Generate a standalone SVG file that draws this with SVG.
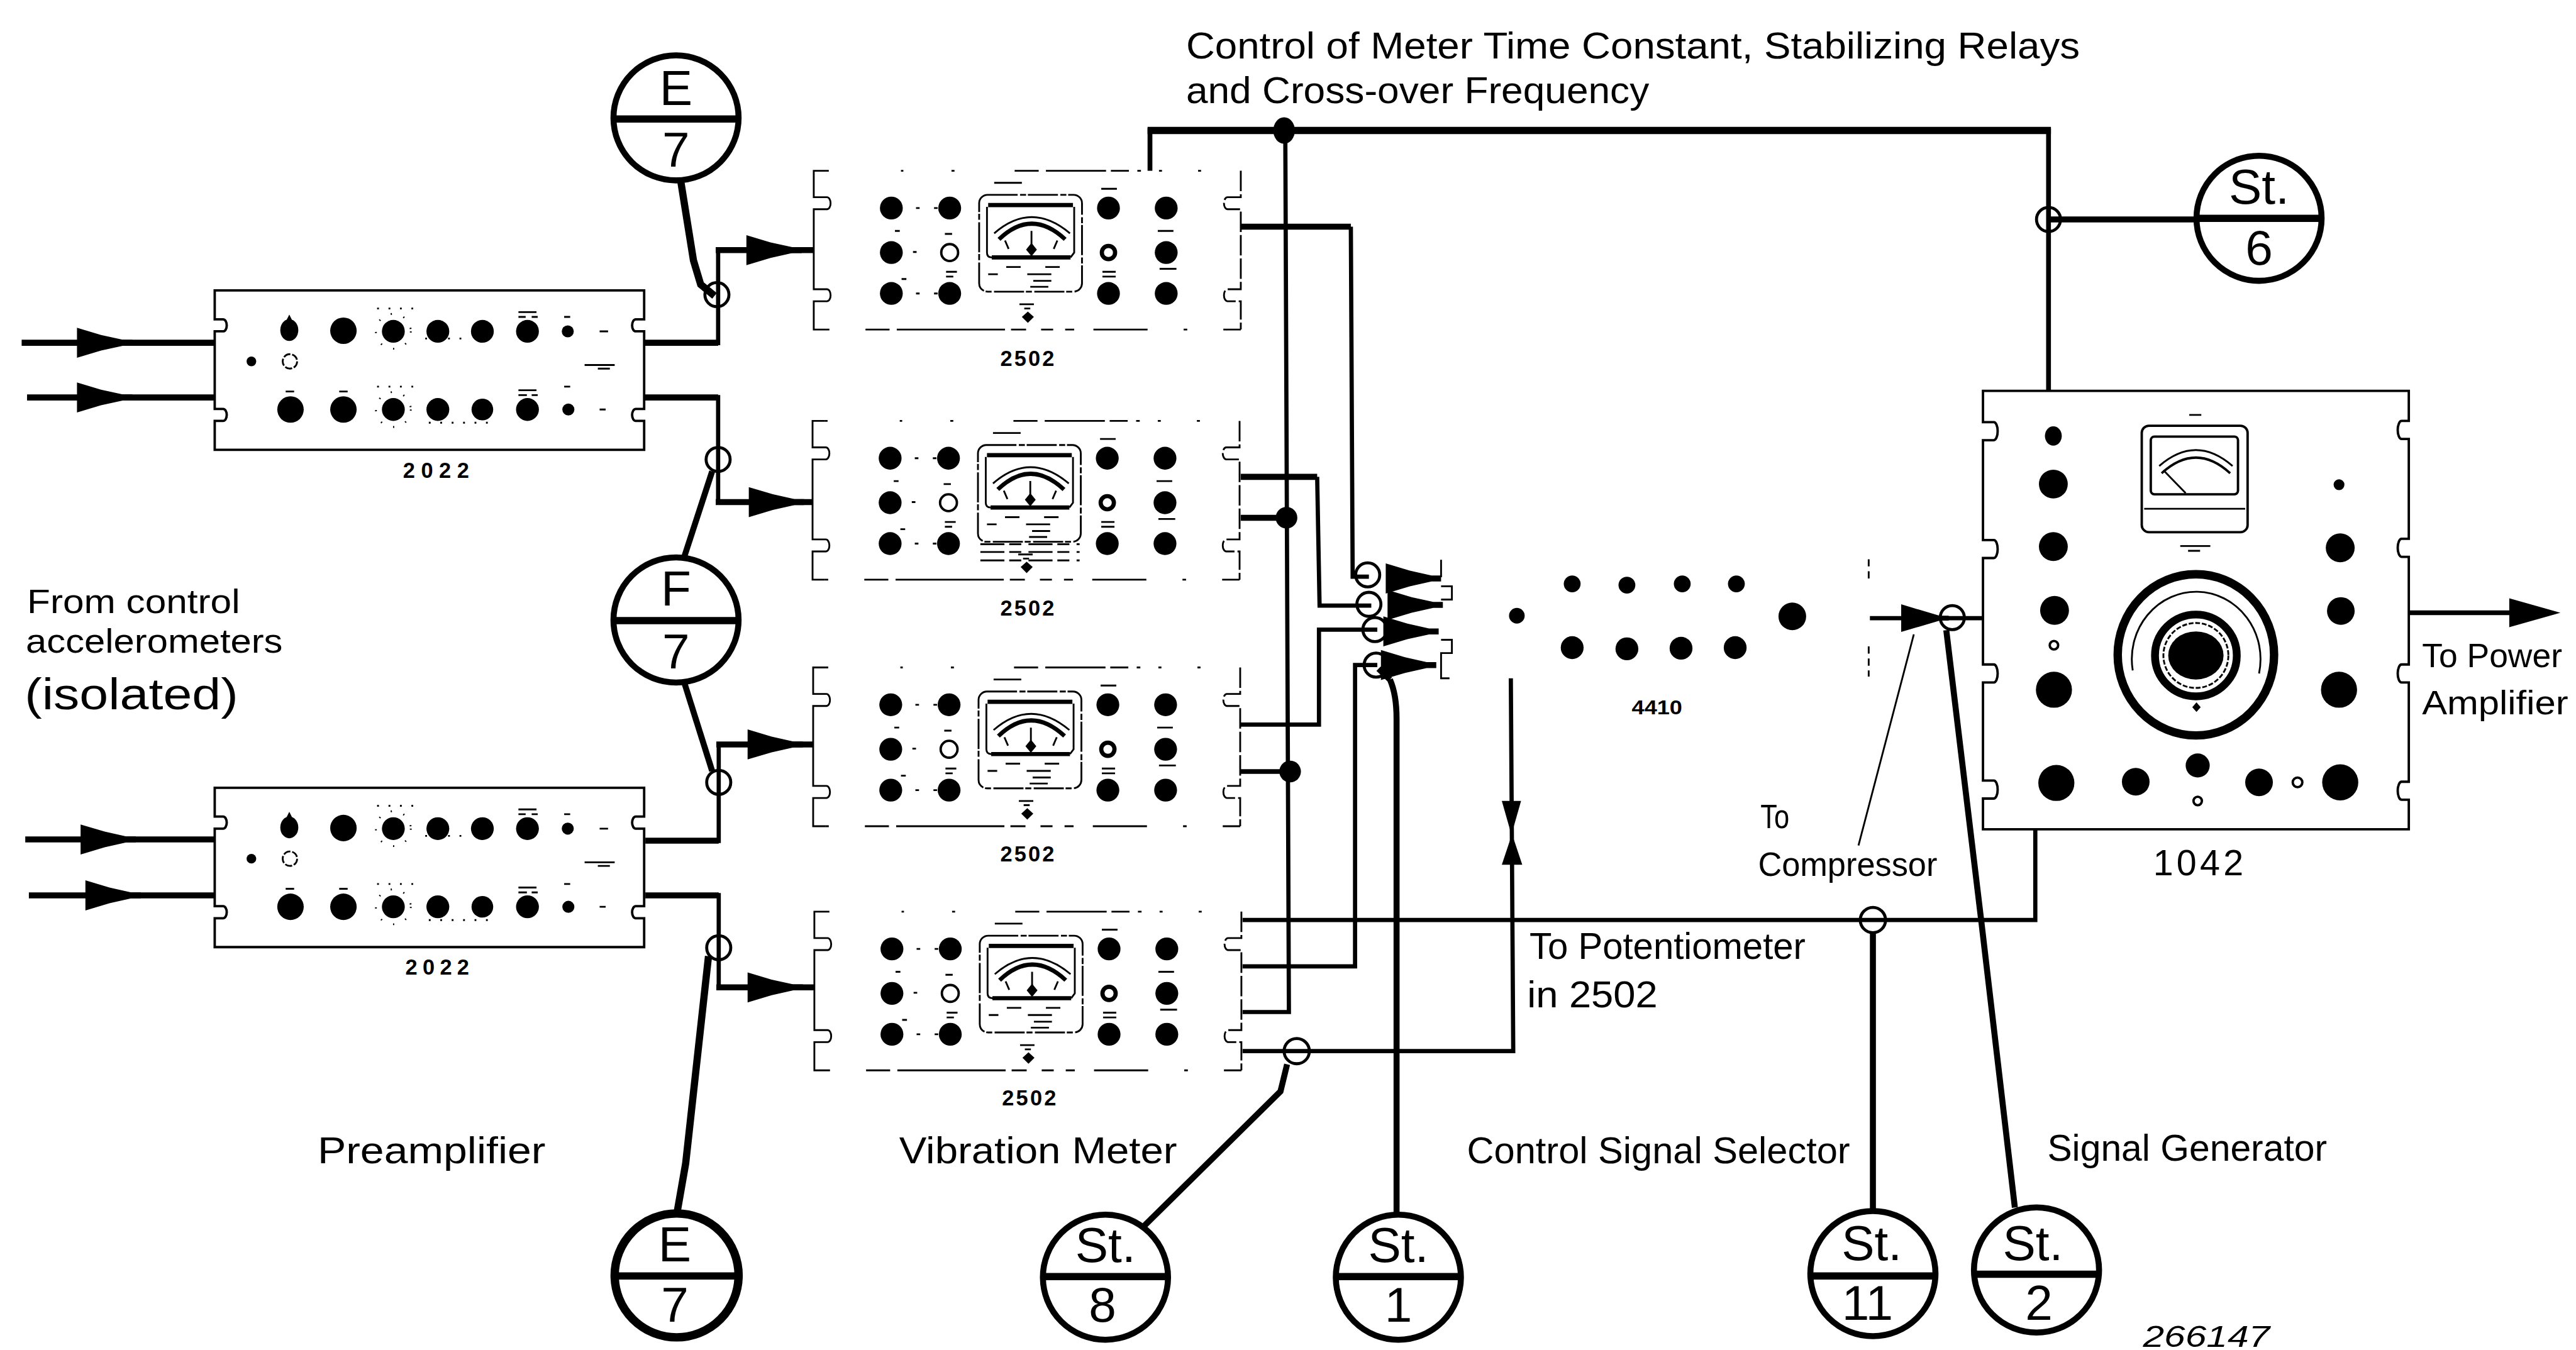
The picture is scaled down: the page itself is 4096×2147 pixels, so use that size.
<svg xmlns="http://www.w3.org/2000/svg" xmlns:xlink="http://www.w3.org/1999/xlink" width="4096" height="2147" viewBox="0 0 4096 2147">
<style>
text{font-family:"Liberation Sans","DejaVu Sans",sans-serif;fill:#000}
.lb{font-size:62px}
.no{font-size:82px;text-anchor:middle}
.pn{font-size:36px;font-weight:700;text-anchor:middle}
.w{fill:none;stroke:#000;stroke-linejoin:miter;stroke-linecap:butt}
.s3{stroke-width:3}.s4{stroke-width:4}.s7{stroke-width:7}.s8{stroke-width:8}.s10{stroke-width:10}.s12{stroke-width:12}
.k{fill:#000;stroke:none}
.oc{fill:none;stroke:#000;stroke-width:5}
.nb{fill:#fff;stroke:#000;stroke-width:10}
</style>
<defs>
<polygon id="arrow" class="k" points="0,-25 40,-13 76,-5 92,-5 92,5 76,5 40,13 0,25"/>
<g id="preamp">
<path class="w s4" d="M0,0H714V48h-14a6,10 0 0 0 0,20h14V197h-14a6,10 0 0 0 0,20h14V265H0V217h14a6,10 0 0 0 0,-20h-14V68h14a6,10 0 0 0 0,-20h-14Z"/>
<ellipse class="k" cx="124" cy="66" rx="15" ry="18"/><path class="k" d="M115,58L124,40L133,58Z"/>
<circle class="k" cx="214" cy="67" r="22"/><circle class="k" cx="297" cy="68" r="19"/><circle class="k" cx="371" cy="68" r="19"/><circle class="k" cx="445" cy="68" r="19"/><circle class="k" cx="520" cy="68" r="19"/><circle class="k" cx="587" cy="68" r="10"/>
<circle class="k" cx="61" cy="118" r="8"/><circle class="w s3" cx="125" cy="118" r="12" stroke-dasharray="12 3"/>
<circle class="k" cx="126" cy="198" r="22"/><circle class="k" cx="214" cy="198" r="22"/><circle class="k" cx="297" cy="198" r="19"/><circle class="k" cx="371" cy="198" r="19"/><circle class="k" cx="445" cy="198" r="18"/><circle class="k" cx="520" cy="198" r="19"/><circle class="k" cx="588" cy="198" r="10"/>
<path class="w s3" d="M640,68h14M640,198h10M615,124h50M637,130h20M118,168h14M207,168h14M505,36h30M505,44h12M527,44h10M505,166h30M505,174h14M527,174h10M581,44h10M581,160h10"/>
<path class="w s3" stroke-dasharray="3 16" d="M270,30H330M270,160H330M356,220H470M350,80H410"/>
<circle class="w s3" cx="297" cy="68" r="29" stroke-dasharray="2 20"/><circle class="w s3" cx="297" cy="198" r="29" stroke-dasharray="2 20"/>
</g>
<g id="meter">
<path class="w s3" d="M20,0H0V44h22a6,10 0 0 1 0,20h-22V197h22a6,10 0 0 1 0,20h-22V264H20"/>
<path class="w s3" stroke-dasharray="34 5" d="M710,0V44h-22a6,10 0 0 0 0,20h22V197h-22a6,10 0 0 0 0,20h22V264"/>
<path class="w s3" stroke-dasharray="5 120 4 80 5 100 40 12 100 8 30 14 6 30 5 60" d="M20,0H710"/>
<path class="w s3" stroke-dasharray="6 60 40 12 180 10 25 25 20 20 15 32 90 60" d="M20,264H710"/>
<circle class="k" cx="129" cy="62" r="19"/><circle class="k" cx="226" cy="62" r="19"/><circle class="k" cx="490" cy="62" r="19"/><circle class="k" cx="586" cy="62" r="19"/>
<circle class="k" cx="129" cy="136" r="19"/><circle class="w s4" cx="226" cy="136" r="14"/><circle class="w s7" cx="490" cy="136" r="11"/><circle class="k" cx="586" cy="136" r="19"/>
<circle class="k" cx="129" cy="204" r="19"/><circle class="k" cx="226" cy="204" r="19"/><circle class="k" cx="490" cy="204" r="19"/><circle class="k" cx="586" cy="204" r="19"/>
<rect class="w s3" x="275" y="40" width="171" height="161" rx="14" stroke-dasharray="50 4 10 3"/>
<path class="w s3" d="M288,60V136q0,8 8,8M433,60V136q0,-0 -6,8"/>
<path class="w s7" d="M290,57H431M296,144H427"/>
<path class="w s7" d="M308,114Q362,62 418,114"/>
<path class="w s3" d="M300,104Q362,50 426,104"/>
<path class="w s3" d="M362,100v26M318,116l6,14M405,116l-6,14"/>
<polygon class="k" points="362,120 371,131 362,142 353,131"/>
<polygon class="k" points="356,234 366,243 356,253 346,243"/>
<path class="w s3" d="M320,160h24M385,160h24M290,172h16M355,172h40M365,183h30M360,193h30M342,222h24M350,229h10"/>
<path class="w s3" d="M135,100h8M146,180h8M170,62h6M200,62h6M170,204h6M200,204h6M165,135h6M218,105h12M220,168h18M220,176h12M480,168h22M480,176h22M575,163h28M572,100h26M478,30h26M300,20h46"/>
</g>
</defs>
<g transform="scale(0.95634)">
<g id="connectors" fill="none" stroke="#000">
<path class="s10" d="M36,570H357M45,661H357"/>
<path class="s10" d="M42,1396H356M48,1489H356"/>
<path class="s10" d="M1071,570H1194"/><path class="s7" d="M1194,574V416"/><path class="s10" d="M1190,416H1354"/>
<path class="s10" d="M1071,661H1194"/><path class="s7" d="M1194,657V835"/><path class="s10" d="M1190,835H1351"/>
<path class="s10" d="M1073,1398H1195"/><path class="s7" d="M1195,1402V1238"/><path class="s10" d="M1191,1238H1352"/>
<path class="s10" d="M1073,1489H1195"/><path class="s7" d="M1195,1485V1646"/><path class="s10" d="M1191,1642H1354"/>
<path class="s12" d="M1132,302L1153,433L1165,473L1188,492"/>
<path class="s10" d="M1138,925L1184,784"/>
<path class="s10" d="M1138,1136L1184,1282"/>
<path class="s12" d="M1178,1590L1140,1935L1126,2015"/>
<path class="s8" d="M1912,284V213"/><path class="s12" d="M1908,217H3410"/><path class="s8" d="M3406,213V650"/>
<path class="s10" d="M3406,365H3652"/>
<path class="s7" d="M2137,217L2143,1683H2066"/>
<path class="s10" d="M2063,377H2246"/><path class="s7" d="M2246,377L2249,959H2276"/>
<path class="s10" d="M2063,793H2190"/><path class="s7" d="M2190,793L2194,1007H2280"/>
<path class="s7" d="M2063,1205H2193V1047H2290"/>
<path class="s7" d="M2066,1607H2253V1106H2290"/>
<path class="s10" d="M2063,861H2139"/><path class="s8" d="M2063,1283H2145"/>
<path class="s7" d="M2066,1530H3384V1379"/>
<path class="s7" d="M2066,1748H2516L2512,1128"/>
<path class="s10" d="M2311,1130Q2322,1155 2322,1195V2018M2292,1112L2311,1130"/>
<path class="s10" d="M3114,1550V2012"/>
<path class="s10" d="M3236,1048L3294,1530L3350,2008"/>
<path class="s10" d="M2140,1770L2129,1815L1903,2038"/>
<path class="s7" d="M3109,1028H3297"/>
<path class="s8" d="M4005,1019H4180"/>
<path class="s3" d="M3182,1055L3090,1406"/>
<use href="#arrow" x="128" y="570"/><use href="#arrow" x="128" y="661"/>
<use href="#arrow" x="134" y="1396"/><use href="#arrow" x="142" y="1489"/>
<use href="#arrow" x="1241" y="416"/><use href="#arrow" x="1245" y="835"/><use href="#arrow" x="1243" y="1238"/><use href="#arrow" x="1243" y="1642"/>
<use href="#arrow" x="2304" y="962"/><use href="#arrow" x="2307" y="1006"/><use href="#arrow" x="2300" y="1050"/><use href="#arrow" x="2296" y="1106"/>
<polygon class="k" points="3161,1005 3225,1024 3240,1024 3240,1032 3225,1032 3161,1051"/>
<polygon class="k" points="4172,995 4257,1019 4172,1043"/>
<polygon class="k" points="2497,1332 2529,1332 2513,1388"/>
<polygon class="k" points="2497,1438 2531,1438 2514,1387"/>
<ellipse class="k" cx="2135" cy="217" rx="18" ry="22"/>
<circle class="k" cx="2139" cy="861" r="18"/><circle class="k" cx="2145" cy="1283" r="18"/>
<circle class="oc" cx="1192" cy="490" r="20"/><circle class="oc" cx="1194" cy="764" r="20"/><circle class="oc" cx="1195" cy="1301" r="20"/><circle class="oc" cx="1195" cy="1576" r="20"/>
<circle class="oc" cx="3406" cy="365" r="20"/><circle class="oc" cx="2274" cy="956" r="20"/><circle class="oc" cx="2276" cy="1005" r="20"/><circle class="oc" cx="2286" cy="1047" r="20"/><circle class="oc" cx="2288" cy="1106" r="20"/>
<circle class="oc" cx="3246" cy="1027" r="20"/><circle class="oc" cx="3114" cy="1530" r="21"/><circle class="oc" cx="2156" cy="1748" r="21"/>
</g>
<g id="preamp1"><use href="#preamp" x="357" y="483"/><text class="pn" x="725" y="795" textLength="110">2022</text></g>
<g id="preamp2"><use href="#preamp" x="357" y="1310"/><text class="pn" x="727" y="1621" textLength="106">2022</text></g>
<g id="meter1"><use href="#meter" x="1353" y="284"/><text class="pn" x="1708" y="609" textLength="90">2502</text></g>
<g id="meter2"><use href="#meter" x="1351" y="700"/><path class="w s3" d="M1630,905H1795M1630,918H1795M1630,932H1795" stroke-dasharray="40 8 20 12"/><text class="pn" x="1708" y="1024" textLength="90">2502</text></g>
<g id="meter3"><use href="#meter" x="1352" y="1110"/><text class="pn" x="1708" y="1433" textLength="90">2502</text></g>
<g id="meter4"><use href="#meter" x="1354" y="1516"/><text class="pn" x="1711" y="1838" textLength="90">2502</text></g>
<g id="selector">
<path class="w s3" d="M2396,931V960M2396,975h18v22h-18M2396,1064h18v22h-18V1128h14"/>
<path class="w s3" stroke-dasharray="12 8" d="M3107,930V965M3107,1075V1125"/>
<circle class="k" cx="2522" cy="1024" r="13"/><circle class="k" cx="2980" cy="1025" r="23"/>
<circle class="k" cx="2614" cy="971" r="14"/><circle class="k" cx="2705" cy="973" r="14"/><circle class="k" cx="2797" cy="971" r="14"/><circle class="k" cx="2887" cy="971" r="14"/>
<circle class="k" cx="2614" cy="1077" r="19"/><circle class="k" cx="2705" cy="1079" r="19"/><circle class="k" cx="2795" cy="1078" r="19"/><circle class="k" cx="2885" cy="1077" r="19"/>
<text class="pn" x="2755" y="1188" style="font-size:32px" textLength="84" lengthAdjust="spacingAndGlyphs">4410</text>
</g>
<g id="generator">
<path class="w s4" d="M3297,650H4005V700h-12a6,14 0 0 0 0,30h12V896h-12a6,14 0 0 0 0,30h12V1105h-12a6,14 0 0 0 0,30h12V1300h-12a6,14 0 0 0 0,30h12V1379H3297V1328h18a6,14 0 0 0 0,-30h-18V1135h18a6,14 0 0 0 0,-30h-18V928h18a6,14 0 0 0 0,-30h-18V732h18a6,14 0 0 0 0,-30h-18Z"/>
<ellipse class="k" cx="3414" cy="725" rx="14" ry="16"/><circle class="k" cx="3414" cy="805" r="24"/><circle class="k" cx="3414" cy="909" r="24"/><circle class="k" cx="3416" cy="1015" r="24"/><circle class="w s4" cx="3415" cy="1073" r="7"/><circle class="k" cx="3415" cy="1147" r="30"/>
<circle class="k" cx="3419" cy="1302" r="30"/><circle class="k" cx="3551" cy="1300" r="23"/><circle class="k" cx="3654" cy="1273" r="20"/><circle class="w s4" cx="3654" cy="1332" r="7"/><circle class="k" cx="3756" cy="1301" r="23"/><circle class="w s4" cx="3820" cy="1301" r="8"/><circle class="k" cx="3891" cy="1301" r="30"/>
<circle class="k" cx="3889" cy="806" r="9"/><circle class="k" cx="3891" cy="911" r="24"/><circle class="k" cx="3892" cy="1016" r="23"/><circle class="k" cx="3889" cy="1147" r="30"/>
<rect class="w s4" x="3561" y="708" width="176" height="177" rx="12"/>
<rect class="w s4" x="3576" y="726" width="145" height="96" rx="6"/>
<path class="w s4" d="M3594,787Q3651,735 3708,787"/><path class="w s3" d="M3590,775Q3651,722 3712,775M3597,782L3634,820M3565,846H3733M3625,908h50M3638,916h20M3640,690h20"/>
<ellipse class="w" style="stroke-width:14" cx="3651" cy="1089" rx="130" ry="134"/>
<path class="w s3" d="M3546,1115A107,112 0 1 1 3756,1120"/>
<ellipse class="w" style="stroke-width:13" cx="3651" cy="1090" rx="68" ry="68"/>
<ellipse class="k" cx="3651" cy="1090" rx="46" ry="40"/>
<circle class="w s3" cx="3651" cy="1090" r="54" stroke-dasharray="8 3"/>
<polygon class="k" points="3652,1168 3659,1176 3652,1184 3645,1176"/>
<text x="3655" y="1456" text-anchor="middle" style="font-size:60px" textLength="150">1042</text>
</g>
<g id="n-e7a"><circle class="nb" cx="1124" cy="196" r="104"/><path class="w s12" d="M1020,198H1228"/><text class="no" x="1124" y="175">E</text><text class="no" x="1124" y="277">7</text></g>
<g id="n-f7"><circle class="nb" cx="1124" cy="1031" r="104"/><path class="w s12" d="M1020,1032H1228"/><text class="no" x="1124" y="1007">F</text><text class="no" x="1124" y="1112">7</text></g>
<g id="n-e7b"><circle class="nb" style="stroke-width:14" cx="1125" cy="2121" r="103"/><path class="w s12" d="M1022,2122H1228"/><text class="no" x="1122" y="2098">E</text><text class="no" x="1122" y="2198">7</text></g>
<g id="n-st6"><circle class="nb" cx="3756" cy="363" r="104"/><path class="w s12" d="M3652,363H3860"/><text class="no" x="3756" y="339">St.</text><text class="no" x="3756" y="440">6</text></g>
<g id="n-st8"><circle class="nb" cx="1838" cy="2124" r="104"/><path class="w s12" d="M1734,2123H1942"/><text class="no" x="1838" y="2099">St.</text><text class="no" x="1833" y="2198">8</text></g>
<g id="n-st1"><circle class="nb" cx="2325" cy="2124" r="104"/><path class="w s12" d="M2221,2123H2429"/><text class="no" x="2325" y="2099">St.</text><text class="no" x="2325" y="2198">1</text></g>
<g id="n-st11"><circle class="nb" cx="3114" cy="2118" r="104"/><path class="w s12" d="M3010,2122H3218"/><text class="no" x="3112" y="2096">St.</text><text class="no" x="3105" y="2195">11</text></g>
<g id="n-st2"><circle class="nb" cx="3386" cy="2112" r="104"/><path class="w s12" d="M3282,2119H3490"/><text class="no" x="3380" y="2096">St.</text><text class="no" x="3390" y="2195">2</text></g>
<g id="labels">
<text class="lb" x="1972" y="97" textLength="1486" lengthAdjust="spacingAndGlyphs">Control of Meter Time Constant, Stabilizing Relays</text>
<text class="lb" x="1972" y="172" textLength="770" lengthAdjust="spacingAndGlyphs">and Cross-over Frequency</text>
<text class="lb" x="45" y="1020" style="font-size:56px" textLength="354" lengthAdjust="spacingAndGlyphs">From control</text>
<text class="lb" x="43" y="1085" style="font-size:56px" textLength="427" lengthAdjust="spacingAndGlyphs">accelerometers</text>
<text class="lb" x="41" y="1180" style="font-size:74px" textLength="355" lengthAdjust="spacingAndGlyphs">(isolated)</text>
<text class="lb" x="528" y="1934" textLength="379" lengthAdjust="spacingAndGlyphs">Preamplifier</text>
<text class="lb" x="1495" y="1934" textLength="462" lengthAdjust="spacingAndGlyphs">Vibration Meter</text>
<text class="lb" x="2439" y="1934" textLength="637" lengthAdjust="spacingAndGlyphs">Control Signal Selector</text>
<text class="lb" x="3404" y="1930" textLength="465" lengthAdjust="spacingAndGlyphs">Signal Generator</text>
<text class="lb" x="2543" y="1595" textLength="459" lengthAdjust="spacingAndGlyphs">To Potentiometer</text>
<text class="lb" x="2539" y="1675" textLength="217" lengthAdjust="spacingAndGlyphs">in 2502</text>
<text class="lb" x="2927" y="1377" style="font-size:56px" textLength="48" lengthAdjust="spacingAndGlyphs">To</text>
<text class="lb" x="2923" y="1457" style="font-size:56px" textLength="298" lengthAdjust="spacingAndGlyphs">Compressor</text>
<text class="lb" x="4027" y="1109" style="font-size:56px" textLength="233" lengthAdjust="spacingAndGlyphs">To Power</text>
<text class="lb" x="4027" y="1188" style="font-size:56px" textLength="243" lengthAdjust="spacingAndGlyphs">Amplifier</text>
<text x="3563" y="2240" style="font-size:50px;font-style:italic" textLength="211" lengthAdjust="spacingAndGlyphs">266147</text>
</g>
</g>
</svg>
